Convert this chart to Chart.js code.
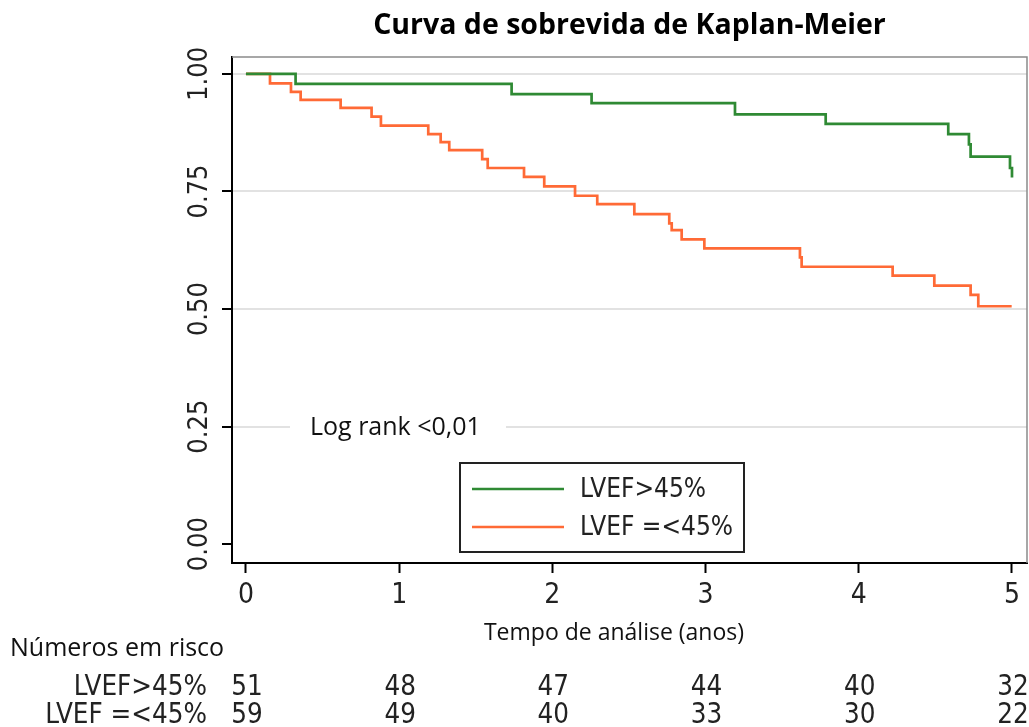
<!DOCTYPE html>
<html>
<head>
<meta charset="utf-8">
<script src="https://cdn.jsdelivr.net/npm/chart.js@4.4.1/dist/chart.umd.min.js"></script>
<style>
  html, body { margin: 0; padding: 0; background: #fff; }
  #wrap { width: 1029px; height: 727px; }
</style>
</head>
<body>
<div id="wrap"><canvas id="myChart" width="1029" height="727"></canvas></div>
<script>
// dados (tempo em anos, sobrevida)
const tempoAlta = [0, 0.324, 1.734, 2.256, 3.192, 3.784, 4.584, 4.719, 4.730, 4.987, 5.0];
const sobrevidaAlta = [1.0, 0.979, 0.957, 0.938, 0.914, 0.894, 0.872, 0.850, 0.824, 0.800, 0.780];

const tempoBaixa = [0, 0.157, 0.294, 0.357, 0.618, 0.820, 0.881, 1.190, 1.271, 1.327, 1.542, 1.578, 1.815, 1.947, 2.148, 2.293, 2.535, 2.763, 2.779, 2.844, 2.992, 3.616, 3.627, 4.221, 4.493, 4.730, 4.780, 4.998];
const sobrevidaBaixa = [1.0, 0.980, 0.962, 0.945, 0.928, 0.909, 0.890, 0.872, 0.855, 0.838, 0.819, 0.800, 0.781, 0.761, 0.741, 0.723, 0.702, 0.682, 0.668, 0.648, 0.629, 0.610, 0.590, 0.571, 0.550, 0.530, 0.506, 0.506];

const ticksX = [0, 1, 2, 3, 4, 5];
const ticksY = [0, 0.25, 0.5, 0.75, 1];
const rotulosY = ["0.00", "0.25", "0.50", "0.75", "1.00"];

const anosRisco = [0, 1, 2, 3, 4, 5];
const riscoAlta = [51, 48, 47, 44, 40, 32];
const riscoBaixa = [59, 49, 40, 33, 30, 22];

const nomes = ["LVEF>45%", "LVEF =<45%"];
const titulo = "Curva de sobrevida de Kaplan-Meier";
const tituloX = "Tempo de análise (anos)";
const textoLogRank = "Log rank <0,01";
const textoRisco = "Números em risco";

const corVerde = "#2f8a34";
const corLaranja = "#ff6a36";
const fonteEstreita = "'Liberation Sans Narrow', 'DejaVu Sans Condensed', sans-serif";
const fonteTexto = "'Open Sans', sans-serif";

function pares(xs, ys) {
  return xs.map((x, i) => ({ x: x, y: ys[i] }));
}

const decoracao = {
  id: "decoracao",
  afterDraw(chart) {
    const ctx = chart.ctx;
    const area = chart.chartArea;
    const sx = chart.scales.x;
    const sy = chart.scales.y;

    ctx.save();
    // moldura cinza em cima e a direita
    ctx.strokeStyle = "#8a8a8a";
    ctx.lineWidth = 1.5;
    ctx.beginPath();
    ctx.moveTo(area.left, area.top);
    ctx.lineTo(area.right, area.top);
    ctx.lineTo(area.right, area.bottom);
    ctx.stroke();

    // rotulos do eixo y (rodados)
    ctx.fillStyle = "#222";
    ctx.font = "27px " + fonteEstreita;
    ctx.textAlign = "center";
    ctx.textBaseline = "middle";
    ticksY.forEach((v, i) => {
      ctx.save();
      ctx.translate(area.left - 32, sy.getPixelForValue(v));
      ctx.rotate(-Math.PI / 2);
      ctx.fillText(rotulosY[i], 0, 0);
      ctx.restore();
    });

    // rotulos do eixo x
    ctx.font = "28px " + fonteEstreita;
    ticksX.forEach((v) => {
      ctx.fillText(String(v), sx.getPixelForValue(v), area.bottom + 33);
    });

    // titulo
    ctx.fillStyle = "#000";
    ctx.font = "bold 28.5px " + fonteTexto;
    ctx.fillText(titulo, (area.left + area.right) / 2, 26);

    // log rank sobre a grade de 0.25
    const yLog = sy.getPixelForValue(0.25);
    ctx.fillStyle = "#fff";
    ctx.fillRect(290, yLog - 13, 216, 26);
    ctx.fillStyle = "#111";
    ctx.font = "25px " + fonteTexto;
    ctx.textAlign = "left";
    ctx.fillText(textoLogRank, 310, yLog + 1);

    // legenda
    const caixa = { x: 460, y: 463, w: 284, h: 89 };
    ctx.fillStyle = "#fff";
    ctx.fillRect(caixa.x, caixa.y, caixa.w, caixa.h);
    ctx.strokeStyle = "#222";
    ctx.lineWidth = 2;
    ctx.strokeRect(caixa.x, caixa.y, caixa.w, caixa.h);
    chart.data.datasets.forEach((ds, i) => {
      const yy = caixa.y + 26 + i * 38;
      ctx.strokeStyle = ds.borderColor;
      ctx.lineWidth = 2.5;
      ctx.beginPath();
      ctx.moveTo(472, yy);
      ctx.lineTo(564, yy);
      ctx.stroke();
      ctx.fillStyle = "#222";
      ctx.font = "26px " + fonteEstreita;
      ctx.textAlign = "left";
      ctx.fillText(ds.label, 580, yy + 1);
    });

    // titulo do eixo x
    ctx.fillStyle = "#111";
    ctx.font = "23px " + fonteTexto;
    ctx.textAlign = "center";
    ctx.fillText(tituloX, 614, 633);

    // tabela de numeros em risco
    ctx.textAlign = "left";
    ctx.font = "25px " + fonteTexto;
    ctx.fillText(textoRisco, 10, 649);

    ctx.font = "27.5px " + fonteEstreita;
    ctx.fillStyle = "#222";
    ctx.textAlign = "right";
    ctx.fillText(nomes[0], 207, 688);
    ctx.fillText(nomes[1], 207, 716);
    ctx.textAlign = "center";
    anosRisco.forEach((a, i) => {
      const px = sx.getPixelForValue(a);
      ctx.fillText(String(riscoAlta[i]), px + 1, 688);
      ctx.fillText(String(riscoBaixa[i]), px + 1, 716);
    });
    ctx.restore();
  }
};

const ctx = document.getElementById("myChart").getContext("2d");
new Chart(ctx, {
  type: "line",
  data: {
    datasets: [
      {
        label: nomes[0],
        data: pares(tempoAlta, sobrevidaAlta),
        borderColor: corVerde,
        borderWidth: 2.7,
        stepped: true,
        pointRadius: 0,
        fill: false,
      },
      {
        label: nomes[1],
        data: pares(tempoBaixa, sobrevidaBaixa),
        borderColor: corLaranja,
        borderWidth: 2.7,
        stepped: true,
        pointRadius: 0,
        fill: false,
      },
    ],
  },
  options: {
    responsive: false,
    animation: false,
    layout: {
      padding: { left: 222, top: 57, right: 2, bottom: 154 },
    },
    plugins: {
      legend: { display: false },
      title: { display: false },
      tooltip: { enabled: false },
    },
    scales: {
      x: {
        type: "linear",
        min: -0.091,
        max: 5.098,
        afterBuildTicks: (scale) => {
          scale.ticks = ticksX.map((v) => ({ value: v }));
        },
        ticks: { display: false },
        grid: {
          drawOnChartArea: false,
          drawTicks: true,
          tickLength: 10,
          tickColor: "#000",
          tickWidth: 2,
        },
        border: { display: true, color: "#000", width: 2 },
      },
      y: {
        type: "linear",
        min: -0.04,
        max: 1.036,
        afterBuildTicks: (scale) => {
          scale.ticks = ticksY.map((v) => ({ value: v }));
        },
        ticks: { display: false },
        grid: {
          color: (c) => (c.tick && c.tick.value === 0 ? "rgba(0,0,0,0)" : "#e2e2e2"),
          lineWidth: 2,
          drawTicks: true,
          tickLength: 10,
          tickColor: "#000",
          tickWidth: 2,
        },
        border: { display: true, color: "#000", width: 2 },
      },
    },
  },
  plugins: [decoracao],
});
</script>
</body>
</html>
